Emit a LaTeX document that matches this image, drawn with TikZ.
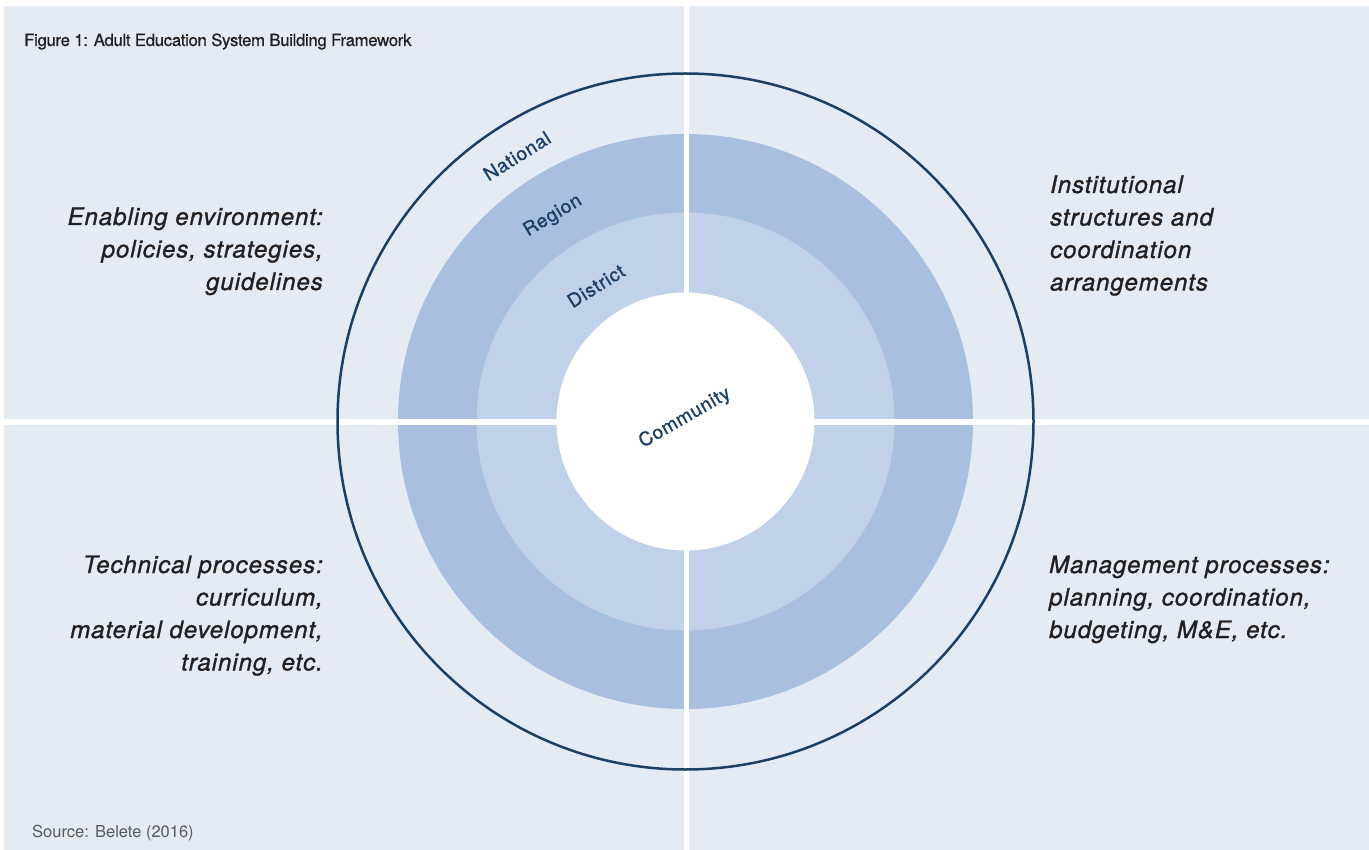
\documentclass[tikz,border=0pt]{standalone}
\usepackage{fontspec}
\setmainfont{TeX Gyre Heros}
\newfontfamily\titlefont[FakeBold=0.6,LetterSpace=-2]{TeX Gyre Heros}
\newfontfamily\quadfont[LetterSpace=4,FakeBold=1.2]{TeX Gyre Heros}
\newfontfamily\ringfont[LetterSpace=4,FakeBold=1.0]{TeX Gyre Heros}
\definecolor{bgblue}{HTML}{E4EBF5}
\definecolor{regionblue}{HTML}{A9BFE0}
\definecolor{districtblue}{HTML}{C1D1EA}
\definecolor{navy}{HTML}{1C3F66}
\definecolor{ink}{HTML}{231F20}
\definecolor{srcgray}{HTML}{58595B}
\tikzset{
  quadtext/.style={inner sep=0pt, text=ink, font=\quadfont\itshape\fontsize{24}{32.5}\selectfont},
  ringlabel/.style={inner sep=0pt, text=navy, font=\ringfont\fontsize{19}{21}\selectfont},
  crossline/.style={white, line width=5pt},
}
\begin{document}
\begin{tikzpicture}[x=1pt,y=-1pt]
\useasboundingbox (0,0) rectangle (1369,850);
\fill[white] (0,0) rectangle (1369,850);
\fill[bgblue] (4,6) rectangle (1369,850);
\coordinate (c) at (685.5,421.5);
% discs
\fill[regionblue] (c) circle[radius=287.5];
\fill[districtblue] (c) circle[radius=209];
\fill[white] (c) circle[radius=129];
% white cross
\coordinate (top) at (686,6);
\coordinate (bot) at (686,850);
\coordinate (lft) at (4,422);
\coordinate (rgt) at (1369,422);
\draw[crossline] (top) -- (bot);
\draw[crossline] (lft) -- (rgt);
% outer circle
\draw[navy, line width=2.5pt] (c) circle[radius=348];
% ring labels
\node[ringlabel, rotate=32] (national) at (517,156) {National};
\node[ringlabel, rotate=31] (region) at (553,216) {Region};
\node[ringlabel, rotate=32] (district) at (596,286) {District};
\node[ringlabel, rotate=30] (community) at (685,418) {Community};
% title and source
\node[anchor=base west, inner sep=0pt, text=ink, font=\titlefont\fontsize{16.8}{20}\selectfont] (title) at (24,46) {Figure 1: Adult Education System Building Framework};
\node[anchor=base west, inner sep=0pt, text=srcgray, font=\fontsize{16.5}{19}\selectfont] (source) at (32,837) {Source: Belete (2016)};
% quadrant texts (base anchor = last line baseline)
\node[quadtext, anchor=base east, align=right] (enabling) at (323,290) {Enabling environment:\\policies, strategies,\\guidelines};
\node[quadtext, anchor=base west, align=left] (institutional) at (1050,290.5) {Institutional\\structures and\\coordination\\arrangements};
\node[quadtext, anchor=base east, align=right] (technical) at (323,670.5) {Technical processes:\\curriculum,\\material development,\\training, etc.};
\node[quadtext, anchor=base west, align=left] (management) at (1049,638) {Management processes:\\planning, coordination,\\budgeting, M\&E, etc.};
\end{tikzpicture}
\end{document}
